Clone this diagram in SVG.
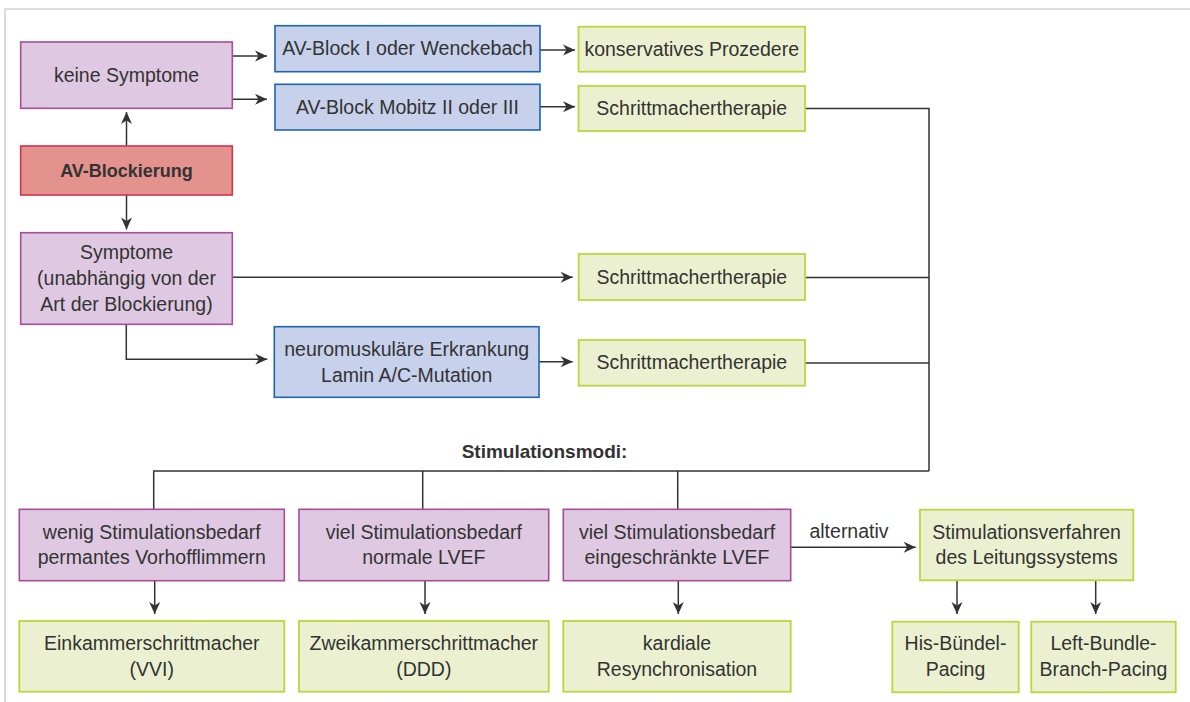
<svg xmlns="http://www.w3.org/2000/svg" width="1190" height="702" viewBox="0 0 1190 702">
<style>
text{font-family:"Liberation Sans",Arial,sans-serif;font-size:19.5px;fill:#333333;text-anchor:middle}
.b{font-weight:bold}
.pur{fill:#dfc9e2;stroke:#a64c9f;stroke-width:1.6}
.red{fill:#e4928d;stroke:#d4304b;stroke-width:1.6}
.blu{fill:#c7d1ec;stroke:#2064ae;stroke-width:1.6}
.grn{fill:#ebf1d0;stroke:#bdd53c;stroke-width:1.8}
.c{fill:none;stroke:#333333;stroke-width:1.5}
.a{marker-end:url(#ah)}
</style>
<defs>
<marker id="ah" markerUnits="userSpaceOnUse" viewBox="-13 -6 14 12" markerWidth="14" markerHeight="12" refX="0" refY="0" orient="auto">
<path d="M0,0 L-12,-5.5 L-8.5,0 L-12,5.5 Z" fill="#333333"/>
</marker>
</defs>
<g id="frame"><path d="M1190,9 H5 V702" fill="none" stroke="#d4d4d4" stroke-width="1.6"/></g>

<g id="connectors">
<path class="c a" d="M126.5,146 V112"/>
<path class="c a" d="M126.5,195 V229.5"/>
<path class="c a" d="M232,56 H267"/>
<path class="c a" d="M232,99.3 H267"/>
<path class="c a" d="M540,50 H575"/>
<path class="c a" d="M540,106.7 H575"/>
<path class="c a" d="M232,277.3 H572.7"/>
<path class="c a" d="M126.3,324 V359.3 H267.3"/>
<path class="c a" d="M539,361.7 H572.7"/>
<path class="c" d="M805,108.5 H929 V471"/>
<path class="c" d="M805,277.5 H929"/>
<path class="c" d="M805,363 H929"/>
<path class="c" d="M153.7,509.3 V471 H929"/>
<path class="c" d="M422.7,471 V509.3"/>
<path class="c" d="M677.7,471 V509.3"/>
<path class="c a" d="M154.7,580.7 V614"/>
<path class="c a" d="M425,580.7 V614"/>
<path class="c a" d="M678.3,580.7 V614"/>
<path class="c a" d="M790.7,547.3 H915.7"/>
<path class="c a" d="M957,580.3 V614"/>
<path class="c a" d="M1095.7,580.3 V614"/>
<text x="849" y="537.5">alternativ</text>
<text class="b" x="544.5" y="458" style="font-size:19px">Stimulationsmodi:</text>
</g>

<g id="keine-symptome"><rect class="pur" x="20.7" y="42" width="211.6" height="66.3"/><text x="126.5" y="81.7">keine Symptome</text></g>
<g id="av-blockierung"><rect class="red" x="20.7" y="146" width="211.6" height="49"/><text class="b" x="126.5" y="177" style="font-size:18px">AV-Blockierung</text></g>
<g id="symptome"><rect class="pur" x="20.7" y="232.7" width="211.6" height="91.6"/>
<text x="126.5" y="259.3">Symptome</text><text x="126.5" y="285">(unabhängig von der</text><text x="126.5" y="310.7">Art der Blockierung)</text></g>

<g id="av-block-1"><rect class="blu" x="275" y="25.7" width="265" height="46"/><text x="407.5" y="55">AV-Block I oder Wenckebach</text></g>
<g id="av-block-mobitz"><rect class="blu" x="275" y="84.3" width="265" height="45.7"/><text x="407.5" y="113.5">AV-Block Mobitz II oder III</text></g>
<g id="neuromusk"><rect class="blu" x="274.3" y="326.7" width="264.7" height="70.6"/><text x="406.7" y="355.5">neuromuskuläre Erkrankung</text><text x="406.7" y="381.5">Lamin A/C-Mutation</text></g>

<g id="konservativ"><rect class="grn" x="578.5" y="26.7" width="226.5" height="45"/><text x="691.7" y="55.5">konservatives Prozedere</text></g>
<g id="schritt-1"><rect class="grn" x="578.5" y="86" width="226.5" height="45"/><text x="691.7" y="115">Schrittmachertherapie</text></g>
<g id="schritt-2"><rect class="grn" x="578.7" y="254" width="226.3" height="46"/><text x="691.8" y="283.5">Schrittmachertherapie</text></g>
<g id="schritt-3"><rect class="grn" x="578.7" y="340" width="226.3" height="45.7"/><text x="691.8" y="369.3">Schrittmachertherapie</text></g>

<g id="wenig"><rect class="pur" x="19.3" y="509.3" width="265" height="71.4"/><text x="151.8" y="538.6">wenig Stimulationsbedarf</text><text x="151.8" y="564.3">permantes Vorhofflimmern</text></g>
<g id="viel-normal"><rect class="pur" x="299" y="509.3" width="249.7" height="71.4"/><text x="423.8" y="538.6">viel Stimulationsbedarf</text><text x="423.8" y="564.3">normale LVEF</text></g>
<g id="viel-eingeschraenkt"><rect class="pur" x="563.3" y="509.3" width="227.4" height="71.4"/><text x="677" y="538.6">viel Stimulationsbedarf</text><text x="677" y="564.3">eingeschränkte LVEF</text></g>
<g id="leitungssystem"><rect class="grn" x="920" y="509.7" width="213.3" height="70.6"/><text x="1026.6" y="538.6">Stimulationsverfahren</text><text x="1026.6" y="564.3">des Leitungssystems</text></g>

<g id="einkammer"><rect class="grn" x="19.3" y="621" width="265" height="70.7"/><text x="151.8" y="649.8">Einkammerschrittmacher</text><text x="151.8" y="675.8">(VVI)</text></g>
<g id="zweikammer"><rect class="grn" x="299" y="621" width="249.7" height="70.7"/><text x="423.8" y="649.8">Zweikammerschrittmacher</text><text x="423.8" y="675.8">(DDD)</text></g>
<g id="crt"><rect class="grn" x="563.3" y="621" width="227.4" height="70.7"/><text x="677" y="649.8">kardiale</text><text x="677" y="675.8">Resynchronisation</text></g>
<g id="his"><rect class="grn" x="892.3" y="621.7" width="126.4" height="70.6"/><text x="955.5" y="650.3">His-Bündel-</text><text x="955.5" y="676.3">Pacing</text></g>
<g id="lbbp"><rect class="grn" x="1031.3" y="621.7" width="144.4" height="70.6"/><text x="1103.5" y="650.3">Left-Bundle-</text><text x="1103.5" y="676.3">Branch-Pacing</text></g>
</svg>
